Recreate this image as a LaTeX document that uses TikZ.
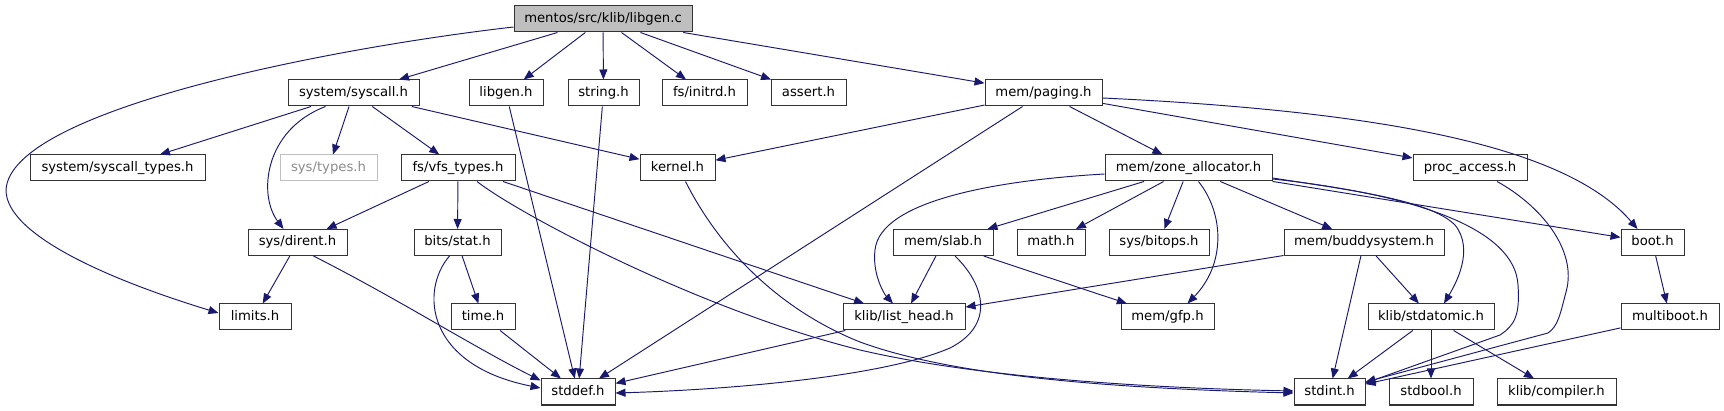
\documentclass[tikz,border=0pt]{standalone}
\usepackage{fontspec}
\setmainfont{DejaVu Sans}
\usetikzlibrary{arrows.meta}
\definecolor{edgecol}{HTML}{191970}
\definecolor{rootfill}{HTML}{BFBFBF}
\tikzset{
  box/.style={draw=black!80, line width=1pt, fill=white, inner sep=0pt,
    minimum height=26pt, text height=10pt, text depth=3pt,
    font=\fontsize{13.2}{15}\selectfont, text=black},
  gbox/.style={box, draw=black!25, text=black!45},
  rootbox/.style={box, fill=rootfill},
  edge/.style={draw=edgecol, line width=0.95pt, -{Triangle[length=10pt,width=8pt]}}
}
\begin{document}
\begin{tikzpicture}[x=1pt,y=-1pt]
\useasboundingbox (0,0) rectangle (1724,411);
% row 0
\node[rootbox, minimum width=178pt] (root) at (603,19) {mentos/src/klib/libgen.c};
% row 1
\node[box, minimum width=131pt] (syscall) at (353.5,93) {system/syscall.h};
\node[box, minimum width=74pt] (libgen) at (506,93) {libgen.h};
\node[box, minimum width=71pt] (stringh) at (603.5,93) {string.h};
\node[box, minimum width=85pt] (initrd) at (704.5,93) {fs/initrd.h};
\node[box, minimum width=75pt] (assert) at (808.5,93) {assert.h};
\node[box, minimum width=117pt] (paging) at (1043.5,93) {mem/paging.h};
% row 2
\node[box, minimum width=175pt] (syscalltypes) at (117.5,168) {system/syscall\_types.h};
\node[gbox, minimum width=97pt] (systypes) at (328.5,168) {sys/types.h};
\node[box, minimum width=114pt] (vfs) at (458,168) {fs/vfs\_types.h};
\node[box, minimum width=75pt] (kernel) at (677.5,168) {kernel.h};
\node[box, minimum width=167pt] (zone) at (1188.5,168) {mem/zone\_allocator.h};
\node[box, minimum width=114pt] (proc) at (1470,168) {proc\_access.h};
% row 3
\node[box, minimum width=99pt] (dirent) at (297.5,242.5) {sys/dirent.h};
\node[box, minimum width=87pt] (bitsstat) at (457.5,242.5) {bits/stat.h};
\node[box, minimum width=100pt] (slab) at (943,242.5) {mem/slab.h};
\node[box, minimum width=68pt] (mathh) at (1051,242.5) {math.h};
\node[box, minimum width=100pt] (bitops) at (1159,242.5) {sys/bitops.h};
\node[box, minimum width=160pt] (buddy) at (1364,242.5) {mem/buddysystem.h};
\node[box, minimum width=63pt] (boot) at (1652.5,242.5) {boot.h};
% row 4
\node[box, minimum width=72pt] (limits) at (255,317) {limits.h};
\node[box, minimum width=64pt] (timeh) at (483,317) {time.h};
\node[box, minimum width=122pt] (listhead) at (904,317) {klib/list\_head.h};
\node[box, minimum width=93pt] (gfp) at (1167.5,317) {mem/gfp.h};
\node[box, minimum width=126pt] (stdatomic) at (1431,317) {klib/stdatomic.h};
\node[box, minimum width=98pt] (multiboot) at (1670,317) {multiboot.h};
% row 5
\node[box, minimum width=74pt] (stddef) at (578,392) {stddef.h};
\node[box, minimum width=71pt] (stdint) at (1329.5,392) {stdint.h};
\node[box, minimum width=84pt] (stdbool) at (1431,392) {stdbool.h};
\node[box, minimum width=119pt] (compiler) at (1556.5,392) {klib/compiler.h};

% edges from root
\draw[edge] ([yshift=-8pt]root.west) .. controls (330,48) and (10,110) .. (6,190) .. controls (6,235) and (110,280) .. ([yshift=4pt]limits.west);
\draw[edge] (root) -- (syscall);
\draw[edge] (root) -- (libgen);
\draw[edge] (root) -- (stringh);
\draw[edge] (root) -- (initrd);
\draw[edge] (root) -- (assert);
\draw[edge] (root) -- (paging);
% syscall
\draw[edge] (syscall) -- (syscalltypes);
\draw[edge] ([xshift=-28pt]syscall.south) .. controls (264,130) and (258,195) .. ([xshift=-14pt]dirent.north);
\draw[edge] (syscall) -- (systypes);
\draw[edge] (syscall) -- (vfs);
\draw[edge] (syscall) -- (kernel);
% libgen, string
\draw[edge] (libgen) -- (stddef);
\draw[edge] (stringh) -- (stddef);
% paging
\draw[edge] (paging) -- (kernel);
\draw[edge] (paging) -- (stddef);
\draw[edge] (paging) -- (zone);
\draw[edge] (paging) -- (proc);
\draw[edge] ([yshift=-5pt]paging.east) .. controls (1400,112) and (1570,150) .. ([xshift=-15pt]boot.north);
% kernel
\draw[edge] ([xshift=8pt]kernel.south) .. controls (720,250) and (780,310) .. (860,342) .. controls (950,375) and (1100,388) .. ([yshift=-1pt]stdint.west);
% vfs
\draw[edge] (vfs) -- (dirent);
\draw[edge] (vfs) -- (bitsstat);
\draw[edge] ([xshift=45pt]vfs.south) -- (listhead);
\draw[edge] ([xshift=19pt]vfs.south) .. controls (520,215) and (700,310) .. (860,350) .. controls (980,378) and (1150,388) .. ([yshift=1pt]stdint.west);
% dirent
\draw[edge] (dirent) -- (limits);
\draw[edge] ([xshift=16pt]dirent.south) .. controls (400,300) and (470,345) .. ([yshift=-2pt]stddef.north west);
% bits/stat
\draw[edge] (bitsstat) -- (timeh);
\draw[edge] ([xshift=-8pt]bitsstat.south) .. controls (420,290) and (425,365) .. ([yshift=4pt]stddef.west);
\draw[edge] (timeh) -- (stddef);
% zone
\draw[edge] ([yshift=-6pt]zone.west) .. controls (1000,180) and (880,200) .. (875,250) .. controls (872,275) and (885,295) .. ([xshift=-11pt]listhead.north);
\draw[edge] (zone) -- (slab);
\draw[edge] (zone) -- (mathh);
\draw[edge] (zone) -- (bitops);
\draw[edge] ([xshift=10pt]zone.south) .. controls (1225,215) and (1225,265) .. ([xshift=20pt]gfp.north);
\draw[edge] (zone) -- (buddy);
\draw[edge] (zone) -- (boot);
\draw[edge] ([yshift=-10pt]zone.east) .. controls (1350,190) and (1430,200) .. (1455,225) .. controls (1475,250) and (1455,285) .. ([xshift=13pt]stdatomic.north);
\draw[edge] ([yshift=-11pt]zone.east) .. controls (1420,195) and (1515,230) .. (1518,285) .. controls (1520,315) and (1515,325) .. (1500,335) -- ([yshift=9pt]stdint.east);
% proc_access
\draw[edge] ([xshift=27pt]proc.south) .. controls (1540,205) and (1578,250) .. (1566,292) .. controls (1560,315) and (1558,326) .. (1548,333) -- ([yshift=10pt]stdint.east);
% slab
\draw[edge] (slab) -- (listhead);
\draw[edge] ([xshift=12pt]slab.south) .. controls (985,285) and (995,325) .. (950,348) .. controls (880,378) and (720,390) .. ([yshift=-1pt]stddef.east);
\draw[edge] (slab) -- (gfp);
% buddy
\draw[edge] (buddy) -- (listhead);
\draw[edge] (buddy) -- (stdint);
\draw[edge] (buddy) -- (stdatomic);
% list_head
\draw[edge] (listhead) -- (stddef);
% stdatomic
\draw[edge] (stdatomic) -- (stdint);
\draw[edge] (stdatomic) -- (stdbool);
\draw[edge] (stdatomic) -- (compiler);
% boot
\draw[edge] (boot) -- (multiboot);
\draw[edge] (multiboot) -- (stdint);
\end{tikzpicture}
\end{document}
